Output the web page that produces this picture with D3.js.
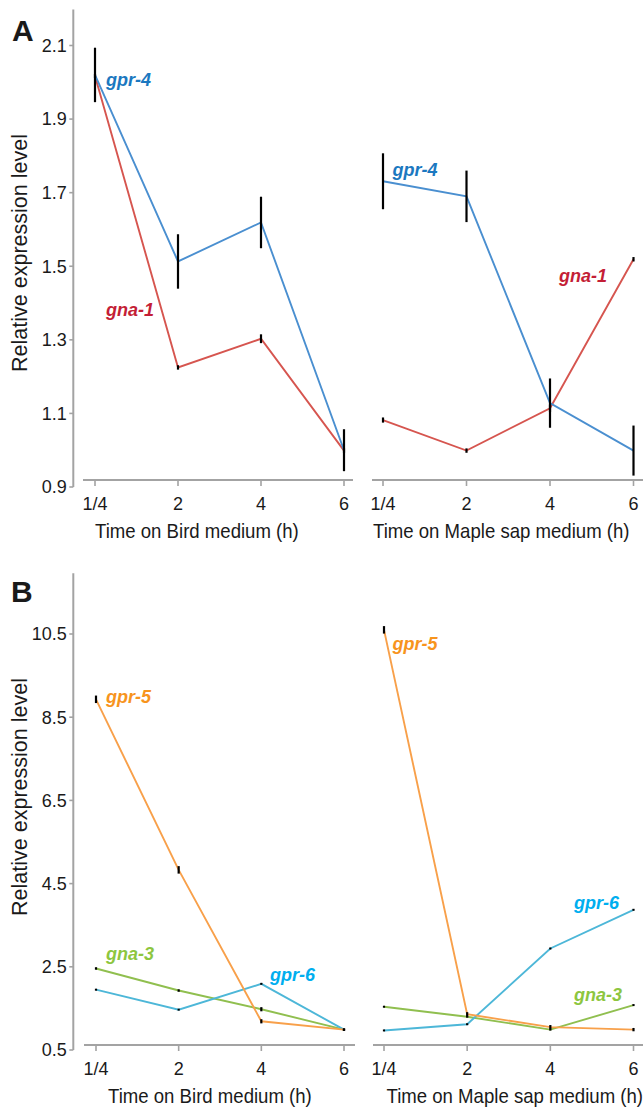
<!DOCTYPE html>
<html>
<head>
<meta charset="utf-8">
<script src="https://cdn.jsdelivr.net/npm/d3@7"></script>
<style>
  html, body { margin: 0; padding: 0; background: #fff; }
  svg { display: block; font-family: "Liberation Sans", Arial, Helvetica, sans-serif; }
</style>
</head>
<body>
<svg id="chart" width="643" height="1108"></svg>
<script>
// ---------- data ----------
const timePoints = ["1/4", "2", "4", "6"];

// Panel A ticks
const yTicksA = [0.9, 1.1, 1.3, 1.5, 1.7, 1.9, 2.1];
// Panel B ticks
const yTicksB = [0.5, 2.5, 4.5, 6.5, 8.5, 10.5];

// Panel A - Bird medium
const gpr4Bird = [2.02, 1.513, 1.619, 1.0];
const gpr4BirdErr = [0.074, 0.074, 0.07, 0.057];
const gna1Bird = [2.017, 1.225, 1.303, 0.999];
const gna1BirdErr = [0.006, 0.006, 0.012, 0.006];
// Panel A - Maple sap medium
const gpr4Maple = [1.731, 1.69, 1.128, 0.999];
const gpr4MapleErr = [0.076, 0.07, 0.067, 0.068];
const gna1Maple = [1.082, 0.999, 1.114, 1.519];
const gna1MapleErr = [0.007, 0.006, 0.01, 0.006];

// Panel B - Bird medium
const gpr5Bird = [8.93, 4.83, 1.19, 0.99];
const gpr5BirdErr = [0.09, 0.09, 0.05, 0.03];
const gna3Bird = [2.46, 1.93, 1.48, 0.99];
const gna3BirdErr = [0.03, 0.03, 0.05, 0.02];
const gpr6Bird = [1.95, 1.47, 2.09, 0.99];
const gpr6BirdErr = [0.02, 0.02, 0.02, 0.02];
// Panel B - Maple sap medium
const gpr5Maple = [10.6, 1.36, 1.05, 0.99];
const gpr5MapleErr = [0.09, 0.05, 0.05, 0.04];
const gpr6Maple = [0.97, 1.12, 2.94, 3.87];
const gpr6MapleErr = [0.02, 0.02, 0.02, 0.02];
const gna3Maple = [1.54, 1.30, 0.99, 1.58];
const gna3MapleErr = [0.02, 0.02, 0.02, 0.02];

const xTitleBird = "Time on Bird medium (h)";
const xTitleMaple = "Time on Maple sap medium (h)";
const yTitle = "Relative expression level";

// colours
const C = {
  gpr4: { line: "#4a8fd0", label: "#1b78c0" },
  gna1: { line: "#d6554f", label: "#c41e36" },
  gpr5: { line: "#f8a04a", label: "#f7941d" },
  gna3: { line: "#90bf4f", label: "#8dc63f" },
  gpr6: { line: "#4db7d8", label: "#00aeef" }
};

// ---------- drawing ----------
const svg = d3.select("#chart");
const axisColor = "#a3a3a3";
const FONT = '"Liberation Sans", Arial, Helvetica, sans-serif';

function drawPanel(p) {
  const g = svg.append("g");
  const y = d3.scaleLinear().domain(p.yDomain).range(p.yRange);
  const xL = d3.scalePoint().domain(timePoints).range(p.xLeft).padding(0);
  const xR = d3.scalePoint().domain(timePoints).range(p.xRight).padding(0);

  // y axis line
  g.append("line")
    .attr("x1", p.yAxisX).attr("x2", p.yAxisX)
    .attr("y1", y(p.yTop)).attr("y2", y(p.yDomain[0]))
    .attr("stroke", axisColor).attr("stroke-width", 2);
  // y ticks
  const yt = g.selectAll(".yt").data(p.yTicks).enter().append("g");
  yt.append("line")
    .attr("x1", p.yAxisX - 4).attr("x2", p.yAxisX)
    .attr("y1", d => y(d)).attr("y2", d => y(d))
    .attr("stroke", axisColor).attr("stroke-width", 1.6);
  yt.append("text")
    .attr("x", p.yAxisX - 6.5).attr("y", d => y(d) + 6.3)
    .attr("text-anchor", "end")
    .attr("font-size", 18).attr("fill", "#1a1a1a")
    .text(d => d3.format(".1f")(d));

  // y title
  g.append("text")
    .attr("transform", `translate(27,${p.yTitleY}) rotate(-90)`)
    .attr("text-anchor", "middle")
    .attr("font-size", 21.5).attr("fill", "#1a1a1a")
    .text(yTitle);

  // panel letter
  g.append("text")
    .attr("x", p.letterX).attr("y", p.letterY)
    .attr("font-size", 30).attr("font-weight", "bold").attr("fill", "#1a1a1a")
    .text(p.letter);

  // x axes
  [[xL, p.xLineL, p.titleXL, xTitleBird], [xR, p.xLineR, p.titleXR, xTitleMaple]].forEach(([xs, ext, tx, title]) => {
    g.append("line")
      .attr("x1", ext[0]).attr("x2", ext[1])
      .attr("y1", p.xAxisY).attr("y2", p.xAxisY)
      .attr("stroke", axisColor).attr("stroke-width", 2);
    const xt = g.selectAll(null).data(timePoints).enter().append("g");
    xt.append("line")
      .attr("x1", d => xs(d)).attr("x2", d => xs(d))
      .attr("y1", p.xAxisY).attr("y2", p.xAxisY + 6)
      .attr("stroke", axisColor).attr("stroke-width", 1.6);
    xt.append("text")
      .attr("x", d => xs(d)).attr("y", p.tickLabelY)
      .attr("text-anchor", "middle")
      .attr("font-size", 18).attr("fill", "#1a1a1a")
      .text(d => d);
    g.append("text")
      .attr("transform", `translate(${tx},${p.titleY}) scale(0.93,1)`)
      .attr("font-size", 20).attr("fill", "#1a1a1a")
      .text(title);
  });

  // series
  const line = (xs) => d3.line().x((d, i) => xs(timePoints[i])).y(d => y(d));
  p.series.forEach(s => {
    const xs = s.side === "L" ? xL : xR;
    g.append("path")
      .datum(s.values)
      .attr("d", line(xs))
      .attr("fill", "none")
      .attr("stroke", C[s.key].line)
      .attr("stroke-width", 1.9)
      .attr("stroke-linejoin", "miter");
  });
  // error bars on top
  p.series.forEach(s => {
    const xs = s.side === "L" ? xL : xR;
    g.selectAll(null).data(s.values).enter().append("line")
      .attr("x1", (d, i) => xs(timePoints[i])).attr("x2", (d, i) => xs(timePoints[i]))
      .attr("y1", (d, i) => Math.min(y(d + s.err[i]), y(d) - 1))
      .attr("y2", (d, i) => Math.max(y(d - s.err[i]), y(d) + 1))
      .attr("stroke", "#000").attr("stroke-width", 2.2);
  });
  // labels
  p.labels.forEach(l => {
    g.append("text")
      .attr("x", l.x).attr("y", l.y)
      .attr("font-size", 18).attr("font-weight", "bold").attr("font-style", "italic")
      .attr("fill", C[l.key].label)
      .text(l.text);
  });
}

drawPanel({
  letter: "A", letterX: 12, letterY: 41,
  yDomain: [0.9, 2.1], yRange: [487, 45.5], yTop: 2.198, yTicks: yTicksA,
  yAxisX: 73.3, yTitleY: 253,
  xLeft: [95, 344], xRight: [383, 633.5],
  xLineL: [83, 353], xLineR: [372, 643],
  xAxisY: 480, tickLabelY: 510, titleY: 537.5,
  titleXL: 95, titleXR: 373,
  series: [
    { key: "gna1", side: "L", values: gna1Bird, err: gna1BirdErr },
    { key: "gpr4", side: "L", values: gpr4Bird, err: gpr4BirdErr },
    { key: "gna1", side: "R", values: gna1Maple, err: gna1MapleErr },
    { key: "gpr4", side: "R", values: gpr4Maple, err: gpr4MapleErr }
  ],
  labels: [
    { key: "gpr4", text: "gpr-4", x: 106, y: 86 },
    { key: "gna1", text: "gna-1", x: 106, y: 315.5 },
    { key: "gpr4", text: "gpr-4", x: 392.5, y: 175.5 },
    { key: "gna1", text: "gna-1", x: 559, y: 281.5 }
  ]
});

drawPanel({
  letter: "B", letterX: 11, letterY: 602,
  yDomain: [0.5, 10.5], yRange: [1050, 634], yTop: 11.96, yTicks: yTicksB,
  yAxisX: 73.3, yTitleY: 797,
  xLeft: [96, 344], xRight: [384, 633.5],
  xLineL: [84, 355], xLineR: [373, 643],
  xAxisY: 1045, tickLabelY: 1075, titleY: 1102.5,
  titleXL: 108, titleXR: 386.5,
  series: [
    { key: "gna3", side: "L", values: gna3Bird, err: gna3BirdErr },
    { key: "gpr6", side: "L", values: gpr6Bird, err: gpr6BirdErr },
    { key: "gpr5", side: "L", values: gpr5Bird, err: gpr5BirdErr },
    { key: "gna3", side: "R", values: gna3Maple, err: gna3MapleErr },
    { key: "gpr6", side: "R", values: gpr6Maple, err: gpr6MapleErr },
    { key: "gpr5", side: "R", values: gpr5Maple, err: gpr5MapleErr }
  ],
  labels: [
    { key: "gpr5", text: "gpr-5", x: 106, y: 702.5 },
    { key: "gna3", text: "gna-3", x: 106, y: 959.5 },
    { key: "gpr6", text: "gpr-6", x: 270, y: 981 },
    { key: "gpr5", text: "gpr-5", x: 392.5, y: 649.5 },
    { key: "gpr6", text: "gpr-6", x: 574, y: 909 },
    { key: "gna3", text: "gna-3", x: 574, y: 1001 }
  ]
});
</script>
</body>
</html>
